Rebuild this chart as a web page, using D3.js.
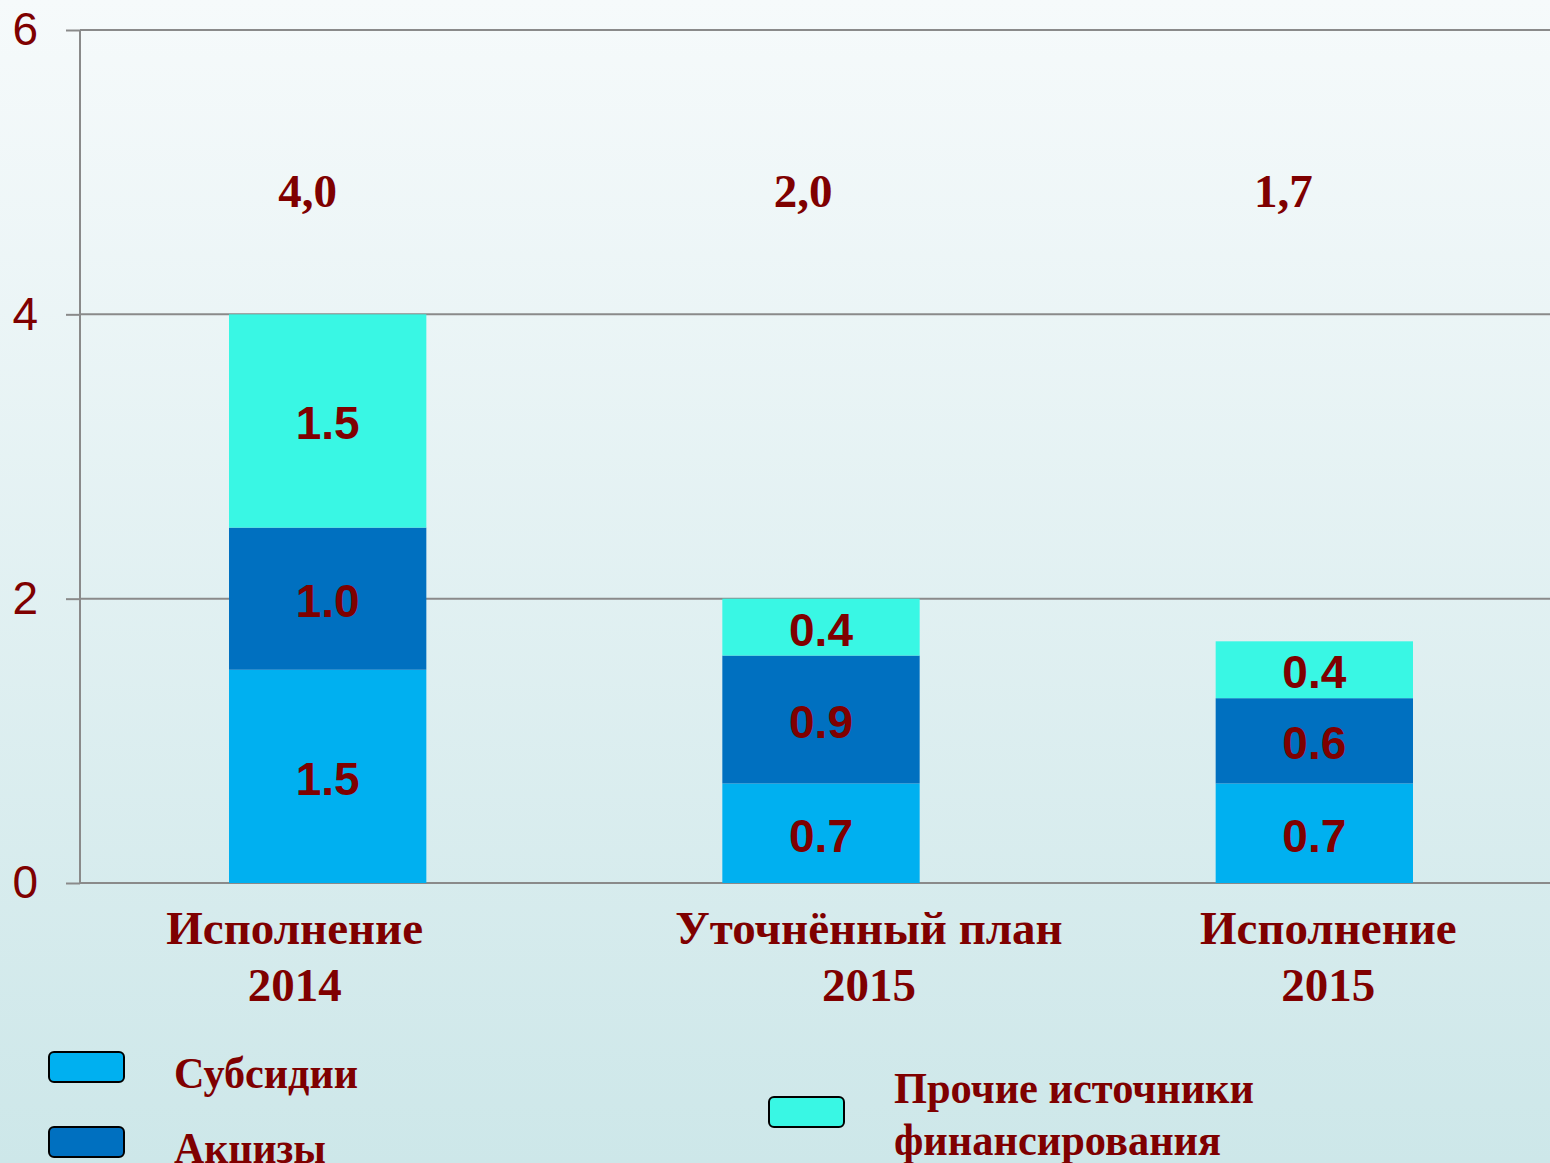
<!DOCTYPE html>
<html>
<head>
<meta charset="utf-8">
<script src="https://cdn.jsdelivr.net/npm/d3@7"></script>
<style>
  body { margin: 0; }
  svg { display: block; }
</style>
</head>
<body>
<svg id="chart" width="1550" height="1163"></svg>
<script>
// data
const categories = [["Исполнение", "2014"], ["Уточнённый план", "2015"], ["Исполнение", "2015"]];
const seriesNames = ["Субсидии", "Акцизы", "Прочие источники финансирования"];
const subsidies = [1.5, 0.7, 0.7];
const excise = [1.0, 0.9, 0.6];
const other = [1.5, 0.4, 0.4];
const totals = ["4,0", "2,0", "1,7"];
const yTicks = [0, 2, 4, 6];

const colors = ["#00b0f0", "#0070c0", "#39f7e4"];
const maroon = "#7f0000";

const svg = d3.select("svg#chart");
const width = +svg.attr("width");
const height = +svg.attr("height");

// background gradient
const defs = svg.append("defs");
const grad = defs.append("linearGradient")
  .attr("id", "bg").attr("x1", 0).attr("y1", 0).attr("x2", 0).attr("y2", 1);
grad.append("stop").attr("offset", "0%").attr("stop-color", "#f6fafb");
grad.append("stop").attr("offset", "100%").attr("stop-color", "#cde7e9");
svg.append("rect").attr("width", width).attr("height", height).attr("fill", "url(#bg)");

const plotLeft = 80, plotRight = 1561, plotTop = 30, plotBottom = 883;

const x = d3.scaleBand()
  .domain(d3.range(categories.length))
  .range([plotLeft + 1, plotRight])
  .paddingInner(0.6)
  .paddingOuter(0.3);

const y = d3.scaleLinear().domain([0, 6]).range([plotBottom, plotTop]);

// gridlines
svg.append("g")
  .selectAll("line")
  .data(yTicks)
  .join("line")
  .attr("x1", plotLeft).attr("x2", width)
  .attr("y1", d => y(d)).attr("y2", d => y(d))
  .attr("stroke", "#8a8a8a")
  .attr("stroke-width", 2);

// y axis
const yAxis = svg.append("g")
  .attr("transform", `translate(${plotLeft},0)`)
  .call(d3.axisLeft(y).tickValues(yTicks).tickSize(14).tickPadding(28).tickFormat(d3.format("d")));
yAxis.select(".domain").remove();
yAxis.selectAll(".tick line").attr("stroke", "#8a8a8a").attr("stroke-width", 2);
yAxis.selectAll(".tick text")
  .attr("fill", maroon)
  .style("font-family", "Arial, 'Liberation Sans', sans-serif")
  .style("font-size", "46px");
svg.append("line")
  .attr("x1", plotLeft).attr("x2", plotLeft)
  .attr("y1", y(6)).attr("y2", y(0))
  .attr("stroke", "#8a8a8a").attr("stroke-width", 2);

// stacked bars
const table = categories.map((c, i) => ({ i, s0: subsidies[i], s1: excise[i], s2: other[i] }));
const stack = d3.stack().keys(["s0", "s1", "s2"])(table);

const layers = svg.append("g")
  .selectAll("g")
  .data(stack)
  .join("g")
  .attr("fill", (d, k) => colors[k]);

layers.selectAll("rect")
  .data(d => d)
  .join("rect")
  .attr("x", d => x(d.data.i))
  .attr("width", x.bandwidth())
  .attr("y", d => y(d[1]))
  .attr("height", d => y(d[0]) - y(d[1]));

layers.selectAll("text")
  .data(d => d.map(p => ({ p, v: p[1] - p[0] })))
  .join("text")
  .attr("x", d => x(d.p.data.i) + x.bandwidth() / 2)
  .attr("y", d => (y(d.p[0]) + y(d.p[1])) / 2)
  .attr("dy", "0.4em")
  .attr("text-anchor", "middle")
  .attr("fill", maroon)
  .style("font-family", "Arial, 'Liberation Sans', sans-serif")
  .style("font-weight", "bold")
  .style("font-size", "46px")
  .text(d => d3.format(".1f")(d.v));

// totals above
const totalShift = [-20, -18, -31];
svg.append("g")
  .selectAll("text")
  .data(totals)
  .join("text")
  .attr("x", (d, i) => x(i) + x.bandwidth() / 2 + totalShift[i])
  .attr("y", y(4.87))
  .attr("dy", "0.35em")
  .attr("text-anchor", "middle")
  .attr("fill", maroon)
  .style("font-family", "'Times New Roman', 'Liberation Serif', serif")
  .style("font-weight", "bold")
  .style("font-size", "47px")
  .text(d => d);

// category labels
const labelShift = [-33, 48, 14];
const cat = svg.append("g")
  .selectAll("text")
  .data(categories)
  .join("text")
  .attr("text-anchor", "middle")
  .attr("fill", maroon)
  .style("font-family", "'Times New Roman', 'Liberation Serif', serif")
  .style("font-weight", "bold")
  .style("font-size", "47px");
cat.selectAll("tspan")
  .data((d, i) => d.map(t => ({ t, i })))
  .join("tspan")
  .attr("x", d => x(d.i) + x.bandwidth() / 2 + labelShift[d.i])
  .attr("y", (d, j) => 944 + j * 57)
  .text(d => d.t);

// legend
const legend = svg.append("g");
const legendItems = [
  { k: 0, sx: 49, sy: 1052, tx: 174, lines: ["Субсидии"], len: [184] },
  { k: 1, sx: 49, sy: 1127, tx: 174, lines: ["Акцизы"], len: [152] },
  { k: 2, sx: 769, sy: 1097, tx: 894, lines: ["Прочие источники", "финансирования"], len: [360, 327] }
];
legend.selectAll("rect")
  .data(legendItems)
  .join("rect")
  .attr("x", d => d.sx).attr("y", d => d.sy)
  .attr("width", 75).attr("height", 30)
  .attr("rx", 5)
  .attr("fill", d => colors[d.k])
  .attr("stroke", "#000")
  .attr("stroke-width", 2);

legend.selectAll("g")
  .data(legendItems)
  .join("g")
  .each(function (d) {
    const first = d.lines.length === 1 ? d.sy + 36 : d.sy + 6;
    d3.select(this).selectAll("text")
      .data(d.lines)
      .join("text")
      .attr("x", d.tx)
      .attr("y", (t, j) => first + j * 52)
      .attr("textLength", (t, j) => d.len[j])
      .attr("lengthAdjust", "spacingAndGlyphs")
      .attr("fill", maroon)
      .style("font-family", "'Times New Roman', 'Liberation Serif', serif")
      .style("font-weight", "bold")
      .style("font-size", "44px")
      .text(t => t);
  });
</script>
</body>
</html>
